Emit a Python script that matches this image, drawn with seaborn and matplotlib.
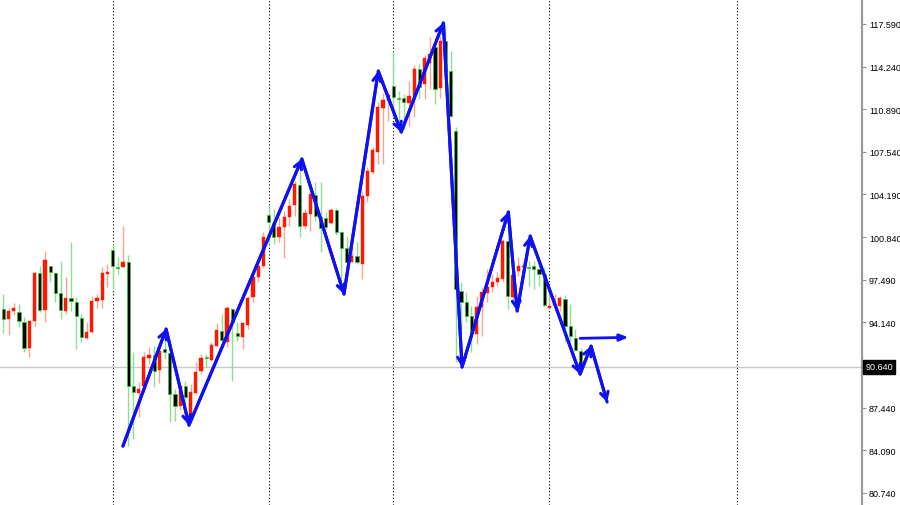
import matplotlib
matplotlib.use("Agg")
import matplotlib.pyplot as plt
import matplotlib.transforms as mtransforms
import seaborn as sns
import numpy as np

# OHLC candles, one per bar (index = bar number)
opens = [95.18, 94.40, 95.05, 94.97, 94.18, 92.09, 94.26, 98.01, 95.13, 98.54,
         98.01, 96.44, 95.05, 96.02, 95.76, 94.48, 92.88, 93.40, 95.84, 95.91,
         97.96, 99.85, 98.51, 98.46, 98.85, 89.11, 88.58, 89.15, 91.31, 91.57,
         90.41, 92.04, 91.72, 88.50, 87.53, 89.11, 86.79, 88.58, 90.33, 91.43,
         91.20, 92.30, 93.48, 92.57, 95.18, 93.30, 92.96, 93.92, 96.10, 97.68,
         98.54, 102.57, 101.94, 100.82, 101.61, 102.39, 103.36, 104.93, 101.68, 102.65,
         104.15, 102.39, 102.34, 101.94, 102.99, 101.21, 99.96, 98.90, 99.33, 98.72,
         104.09, 105.98, 107.50, 110.96, 111.56, 112.74, 111.79, 111.75, 111.38, 111.95,
         114.05, 112.87, 114.52, 115.78, 112.56, 116.25, 113.89, 109.18, 96.62, 95.71,
         94.66, 93.22, 95.32, 96.44, 96.89, 97.28, 97.54, 100.55, 96.10, 98.19,
         98.52, 98.48, 98.54, 98.33, 97.93, 95.24, 95.54, 95.44, 95.97, 93.87,
         92.88, 91.90]
highs = [96.36, 95.26, 95.65, 95.58, 94.55, 94.26, 98.07, 98.59, 99.77, 98.59,
         98.12, 98.93, 97.68, 100.43, 96.10, 94.79, 94.18, 96.23, 96.36, 98.46,
         98.72, 100.29, 99.27, 101.68, 99.43, 91.78, 89.44, 91.83, 92.20, 92.30,
         92.57, 92.69, 91.78, 88.89, 89.29, 89.55, 89.29, 90.99, 91.65, 91.65,
         92.57, 94.08, 94.79, 95.40, 95.24, 94.14, 94.14, 96.23, 97.80, 98.72,
         101.21, 103.36, 103.05, 102.39, 102.91, 103.83, 105.27, 106.58, 103.05, 104.62,
         105.19, 105.14, 102.79, 103.10, 103.10, 101.34, 100.95, 100.82, 100.43, 104.36,
         106.32, 107.90, 111.43, 112.17, 112.17, 115.49, 112.35, 112.09, 113.11, 114.37,
         114.44, 115.15, 116.57, 116.10, 116.65, 117.59, 115.47, 109.49, 97.31, 96.52,
         95.42, 96.23, 96.89, 98.33, 97.93, 98.07, 100.69, 102.39, 98.33, 99.25,
         98.98, 98.98, 98.98, 98.98, 98.49, 96.76, 96.36, 96.21, 96.28, 95.58,
         93.61, 92.12]
lows = [93.30, 93.14, 94.71, 93.77, 91.83, 91.39, 93.87, 94.97, 94.18, 97.28,
        95.76, 94.40, 94.79, 95.05, 92.04, 92.57, 92.82, 93.30, 95.24, 95.24,
        96.89, 96.76, 97.93, 98.46, 84.44, 84.96, 86.69, 88.63, 90.86, 89.03,
        89.37, 91.25, 86.32, 86.40, 87.27, 86.93, 86.28, 88.50, 90.07, 90.60,
        91.12, 92.30, 92.57, 92.17, 89.55, 92.69, 92.04, 93.61, 95.76, 97.28,
        98.38, 100.29, 100.29, 100.43, 99.17, 101.73, 102.52, 100.82, 101.47, 101.34,
        102.13, 99.64, 101.47, 101.87, 101.00, 97.41, 98.85, 98.85, 98.72, 97.54,
        103.57, 105.80, 106.58, 106.58, 109.99, 110.38, 109.49, 109.33, 109.57, 110.28,
        111.69, 111.69, 112.48, 111.30, 111.77, 113.27, 110.28, 91.02, 93.61, 94.16,
        91.78, 92.43, 93.08, 95.71, 96.50, 97.02, 97.28, 95.18, 95.97, 97.80,
        97.93, 97.02, 96.76, 97.02, 95.34, 95.18, 95.34, 95.03, 92.57, 92.59,
        91.88, 90.47]
closes = [94.40, 95.03, 95.24, 94.22, 92.09, 94.26, 98.01, 95.13, 99.06, 98.07,
          96.44, 95.13, 96.02, 95.84, 94.61, 92.96, 93.40, 95.84, 96.02, 98.01,
          98.07, 98.59, 98.43, 98.90, 89.15, 88.63, 88.89, 91.39, 91.57, 90.33,
          91.90, 91.78, 88.50, 87.53, 89.15, 88.24, 88.63, 90.25, 91.31, 91.36,
          92.35, 93.53, 92.77, 95.24, 94.14, 93.04, 94.08, 96.05, 97.68, 98.54,
          100.82, 102.00, 100.82, 101.61, 102.39, 103.30, 105.01, 101.68, 102.73, 104.22,
          102.52, 101.53, 101.63, 102.99, 101.21, 99.96, 98.90, 99.33, 98.85, 104.09,
          106.06, 107.68, 111.04, 111.64, 112.01, 111.83, 111.72, 111.43, 111.93, 114.05,
          112.61, 114.92, 115.23, 112.48, 116.25, 113.89, 110.36, 96.76, 95.71, 94.66,
          93.30, 95.32, 96.50, 96.89, 97.33, 97.60, 100.55, 96.23, 97.86, 98.59,
          98.56, 98.41, 98.33, 97.93, 95.50, 95.44, 95.62, 96.02, 93.87, 93.06,
          92.00, 90.64]

# hand-drawn wave (bar index, price)
wave_x = [23.0, 31.3, 35.7, 57.4, 65.5, 72.1, 76.5, 84.6, 88.2, 97.1, 98.8, 101.3, 110.9, 113.0, 116.1]
wave_y = [84.41, 93.61, 86.06, 106.98, 96.36, 113.89, 109.10, 117.67, 90.62, 102.81, 95.03, 100.92, 90.07, 92.27, 87.87]
flat_x = [110.9, 120.2]
flat_y = [92.88, 92.96]

separators = [21, 51, 75, 105, 141]
price_ticks = [117.59, 114.24, 110.89, 107.54, 104.19, 100.84, 97.49, 94.14, 87.44, 84.09, 80.74]
last_price = 90.64

sns.set_style("white")
plt.rcParams["font.family"] = ["Liberation Sans", "DejaVu Sans"]

fig = plt.figure(figsize=(9, 5.06), dpi=100)
ax = fig.add_axes([0, 0, 862 / 900, 1])

idx = np.arange(len(opens))
o = np.array(opens); c = np.array(closes)
h = np.array(highs); l = np.array(lows)
up = c >= o

# period separators and current price line
for s in separators:
    ax.axvline(s, color="black", lw=0.8, ls=(0, (1, 2)), zorder=1)
ax.axhline(last_price, color="#c8c8c8", lw=1, zorder=1)

# wicks
ax.vlines(idx[up], l[up], h[up], color="#f7a58f", lw=1, zorder=2)
ax.vlines(idx[~up], l[~up], h[~up], color="#8ee08e", lw=1, zorder=2)

# bodies
body_lo = np.minimum(o, c)
body_h = np.maximum(np.abs(c - o), 0.07)
ax.bar(idx[up], body_h[up], bottom=body_lo[up], width=0.62,
       color="#ff1800", edgecolor="#ff1800", lw=0.3, zorder=3)
ax.bar(idx[~up], body_h[~up], bottom=body_lo[~up], width=0.62,
       color="black", edgecolor="#3fc43f", lw=0.6, zorder=3)

# wave lines with arrow heads
blue = "#1010f5"
sns.lineplot(x=wave_x, y=wave_y, sort=False, color=blue, lw=2.2, ax=ax, zorder=5)
for i in range(1, len(wave_x)):
    ax.annotate("", xy=(wave_x[i], wave_y[i]), xytext=(wave_x[i - 1], wave_y[i - 1]),
                arrowprops=dict(arrowstyle="->,head_length=0.5,head_width=0.28",
                                color=blue, lw=2.2, shrinkA=0, shrinkB=0), zorder=6)
ax.annotate("", xy=(flat_x[1], flat_y[1]), xytext=(flat_x[0], flat_y[0]),
            arrowprops=dict(arrowstyle="-|>,head_length=0.5,head_width=0.2",
                            color=blue, lw=2, shrinkA=0, shrinkB=0), zorder=6)

ax.set_xlim(-0.635, 165.1)
ax.set_ylim(79.78, 119.555)

ax.yaxis.tick_right()
ax.set_yticks(price_ticks)
ax.set_yticklabels([f"{t:.3f}" for t in price_ticks])
ax.tick_params(axis="y", labelsize=6.5, length=3, width=0.8, color="#909090",
               pad=2, labelcolor="black")
ax.set_xticks([])
for side in ["left", "top", "bottom"]:
    ax.spines[side].set_visible(False)
ax.spines["right"].set_color("#9a9a9a")
ax.spines["right"].set_linewidth(1.6)

trans = mtransforms.blended_transform_factory(ax.transAxes, ax.transData)
ax.text(1.004, last_price, f"{last_price:.3f}", transform=trans, ha="left", va="center",
        fontsize=6.5, color="white",
        bbox=dict(boxstyle="square,pad=0.25", fc="black", ec="black"))

fig.savefig("out.png", dpi=100)
